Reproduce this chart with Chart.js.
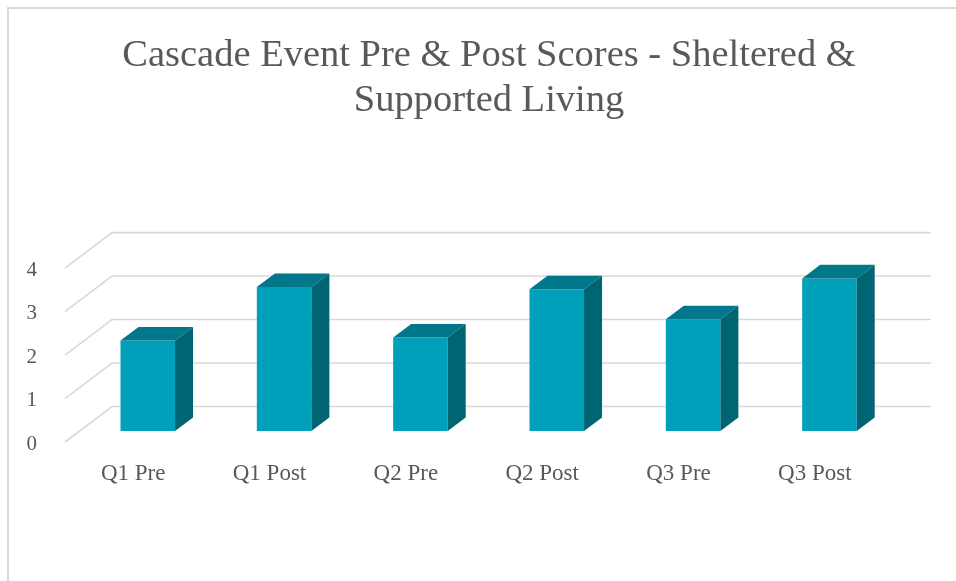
<!DOCTYPE html>
<html>
<head>
    <title>Cascade Event Pre & Post Scores</title>
    <script src="https://cdn.jsdelivr.net/npm/chart.js"></script>
    <style>
        body { margin: 0; background: #fff; }
        #frame { position: absolute; left: 7px; top: 7px; width: 1000px; height: 600px;
                 border-left: 2px solid #d9d9d9; border-top: 2px solid #d9d9d9; }
        #cascadeChart { position: absolute; left: 0; top: 0; }
    </style>
</head>
<body>
    <div id="frame"></div>
    <canvas id="cascadeChart" width="956" height="581"></canvas>

    <script>
        var categories = ['Q1 Pre', 'Q1 Post', 'Q2 Pre', 'Q2 Post', 'Q3 Pre', 'Q3 Post'];
        var scores = [2.08, 3.31, 2.15, 3.26, 2.57, 3.51];
        var yTicks = [0, 1, 2, 3, 4];

        var textColor = '#595959';
        var fontName = "'Liberation Serif', 'DejaVu Serif', serif";

        // depth of the floor and of each bar (pseudo 3D look)
        var floorDx = 47, floorDy = 35.5;
        var barShiftX = 14.6, barShiftY = 11;
        var barDx = 18, barDy = 13.6;

        var depth3d = {
            id: 'depth3d',
            beforeDatasetsDraw: function (chart) {
                var ctx = chart.ctx;
                var area = chart.chartArea;
                var y = chart.scales.y;
                ctx.save();
                ctx.strokeStyle = '#d9d9d9';
                ctx.lineWidth = 1.6;
                yTicks.forEach(function (v) {
                    var py = y.getPixelForValue(v);
                    ctx.beginPath();
                    ctx.moveTo(area.left, py);
                    ctx.lineTo(area.left + floorDx, py - floorDy);
                    ctx.lineTo(area.right + floorDx + 1, py - floorDy);
                    ctx.stroke();
                });
                ctx.restore();
                ctx.save();
                ctx.translate(barShiftX, -barShiftY);
            },
            afterDatasetsDraw: function (chart) {
                var ctx = chart.ctx;
                ctx.restore();
                ctx.save();
                ctx.translate(barShiftX, -barShiftY);
                chart.getDatasetMeta(0).data.forEach(function (bar) {
                    var l = bar.x - bar.width / 2, r = bar.x + bar.width / 2;
                    var top = bar.y, base = bar.base;
                    // top face
                    ctx.fillStyle = '#00778a';
                    ctx.beginPath();
                    ctx.moveTo(l, top);
                    ctx.lineTo(l + barDx, top - barDy);
                    ctx.lineTo(r + barDx, top - barDy);
                    ctx.lineTo(r, top);
                    ctx.closePath();
                    ctx.fill();
                    // side face
                    ctx.fillStyle = '#006573';
                    ctx.beginPath();
                    ctx.moveTo(r, top);
                    ctx.lineTo(r + barDx, top - barDy);
                    ctx.lineTo(r + barDx, base - barDy);
                    ctx.lineTo(r, base);
                    ctx.closePath();
                    ctx.fill();
                });
                ctx.restore();
            }
        };

        var chart = new Chart(document.getElementById('cascadeChart').getContext('2d'), {
            type: 'bar',
            data: {
                labels: categories,
                datasets: [{
                    label: 'Score',
                    data: scores,
                    backgroundColor: '#00a0ba',
                    borderWidth: 0,
                    categoryPercentage: 0.4,
                    barPercentage: 1,
                    clip: false
                }]
            },
            options: {
                responsive: false,
                animation: false,
                layout: { padding: { left: 22, right: 0, top: 0, bottom: 0 } },
                plugins: {
                    legend: { display: false },
                    tooltip: { enabled: false },
                    title: {
                        display: true,
                        text: ['Cascade Event Pre & Post Scores - Sheltered &', 'Supported Living'],
                        color: textColor,
                        font: { family: fontName, size: 38.5, weight: 'normal', lineHeight: 1.17 },
                        padding: { top: 33, bottom: 145 }
                    }
                },
                scales: {
                    x: {
                        grid: { display: false },
                        border: { display: false },
                        ticks: { color: textColor, font: { family: fontName, size: 23 }, padding: 10, maxRotation: 0 },
                        afterFit: function (scale) { scale.height = 139; }
                    },
                    y: {
                        min: 0,
                        max: 4,
                        grid: { display: false },
                        border: { display: false },
                        ticks: { color: textColor, font: { family: fontName, size: 21 }, padding: 20, stepSize: 1, labelOffset: 2 },
                        afterFit: function (scale) { scale.width = 43; }
                    },
                    spacer: {
                        position: 'right',
                        min: 0,
                        max: 4,
                        grid: { display: false },
                        border: { display: false },
                        ticks: { display: false },
                        afterFit: function (scale) { scale.width = 73; }
                    }
                }
            },
            plugins: [depth3d]
        });
    </script>
</body>
</html>
